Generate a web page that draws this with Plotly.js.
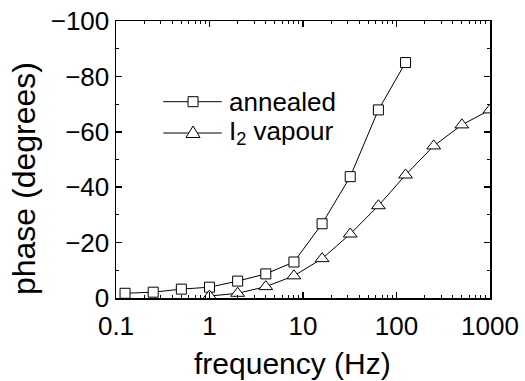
<!DOCTYPE html>
<html>
<head>
<meta charset="utf-8">
<script src="https://cdn.plot.ly/plotly-3.0.1.min.js"></script>
<style>html,body{margin:0;padding:0;background:#fff;}#chart{width:525px;height:381px;}</style>
</head>
<body>
<div id="chart"></div>
<script>
// Data
const annealedFreq = [0.125, 0.25, 0.5, 1, 2, 4, 8, 16, 32, 64, 125];
const annealedPhase = [-1.7, -2.1, -3.2, -3.9, -6.1, -8.7, -13, -26.8, -43.8, -67.9, -85];
const vapourFreq = [1, 2, 4, 8, 16, 32, 64, 125, 250, 500, 1000];
const vapourPhase = [-0.7, -1.7, -4.1, -8, -14.2, -23.1, -33.3, -44.4, -54.9, -62.5, -67.9];
const seriesNames = ["annealed", "I<sub>2</sub> vapour"];
const xTickVals = [0.1, 1, 10, 100, 1000];
const xTickText = ["0.1", "1", "10", "100", "1000"];
const yTickVals = [0, -20, -40, -60, -80, -100];
const yTickText = ["0", "\u221220", "\u221240", "\u221260", "\u221280", "\u2212100"];

const FONT = "Liberation Sans, Arial, Helvetica, sans-serif";

const traces = [
  {
    x: annealedFreq, y: annealedPhase, name: seriesNames[0],
    mode: "lines+markers", type: "scatter",
    line: {color: "#000", width: 1},
    marker: {symbol: "square", size: 10, color: "#fff", line: {color: "#000", width: 1}}
  },
  {
    x: vapourFreq, y: vapourPhase, name: seriesNames[1],
    mode: "lines+markers", type: "scatter",
    line: {color: "#000", width: 1},
    marker: {symbol: "triangle-up", size: 12, color: "#fff", line: {color: "#000", width: 1}}
  }
];

// Legend drawn with shapes + annotations (paper coords)
const legX0 = 0.1265, legX1 = 0.2826, legXm = 0.206, legTextX = 0.298;
const legY = [0.7087, 0.5957];
const shapes = [];
legY.forEach(function (yy) {
  shapes.push({type: "line", xref: "paper", yref: "paper", x0: legX0, x1: legX1, y0: yy, y1: yy,
    line: {color: "#000", width: 1}});
});
shapes.push({type: "rect", xref: "paper", yref: "paper", xsizemode: "pixel", ysizemode: "pixel",
  xanchor: legXm, yanchor: legY[0], x0: -5, x1: 5, y0: -5, y1: 5,
  fillcolor: "#fff", line: {color: "#000", width: 1}, layer: "above"});
shapes.push({type: "path", xref: "paper", yref: "paper", xsizemode: "pixel", ysizemode: "pixel",
  xanchor: legXm, yanchor: legY[1], path: "M-7,-4.5 L7,-4.5 L0,7 Z",
  fillcolor: "#fff", line: {color: "#000", width: 1}, layer: "above"});

const annotations = [
  {text: seriesNames[0], xref: "paper", yref: "paper", x: legTextX, y: legY[0], xanchor: "left", yanchor: "middle",
    showarrow: false, font: {family: FONT, size: 26, color: "#000"}},
  {text: seriesNames[1], xref: "paper", yref: "paper", x: legTextX, y: legY[1], xanchor: "left", yanchor: "middle",
    showarrow: false, font: {family: FONT, size: 26, color: "#000"}},
  {text: "frequency (Hz)", xref: "paper", yref: "paper", x: 0.4706, y: -0.235, xanchor: "center", yanchor: "middle",
    showarrow: false, font: {family: FONT, size: 30, color: "#000"}},
  {text: "phase (degrees)", xref: "paper", yref: "paper", x: -0.246, y: 0.433, xanchor: "center", yanchor: "middle",
    textangle: -90, showarrow: false, font: {family: FONT, size: 32, color: "#000"}}
];

const layout = {
  width: 525, height: 381,
  margin: {l: 116, r: 35, t: 21, b: 83, pad: 0},
  paper_bgcolor: "#fff", plot_bgcolor: "#fff",
  showlegend: false,
  font: {family: FONT, size: 26, color: "#000"},
  xaxis: {
    type: "log", range: [-1, 3],
    tickvals: xTickVals, ticktext: xTickText,
    ticks: "inside", ticklen: 6, tickwidth: 1.5, tickcolor: "#000",
    ticklabelstandoff: 4,
    minor: {ticks: "inside", ticklen: 3, tickwidth: 1, tickcolor: "#000", dtick: "D1"},
    showline: true, linecolor: "#000", linewidth: 1.5, mirror: "ticks",
    showgrid: false, zeroline: false,
    tickfont: {family: FONT, size: 26, color: "#000"}
  },
  yaxis: {
    range: [0, -100],
    tickvals: yTickVals, ticktext: yTickText,
    ticks: "inside", ticklen: 6, tickwidth: 1.5, tickcolor: "#000",
    minor: {ticks: "inside", ticklen: 3, tickwidth: 1, tickcolor: "#000", dtick: 10},
    showline: true, linecolor: "#000", linewidth: 1.5, mirror: "ticks",
    showgrid: false, zeroline: false,
    tickfont: {family: FONT, size: 26, color: "#000"}
  },
  shapes: shapes,
  annotations: annotations
};

Plotly.newPlot("chart", traces, layout, {displayModeBar: false, staticPlot: true});
</script>
</body>
</html>
